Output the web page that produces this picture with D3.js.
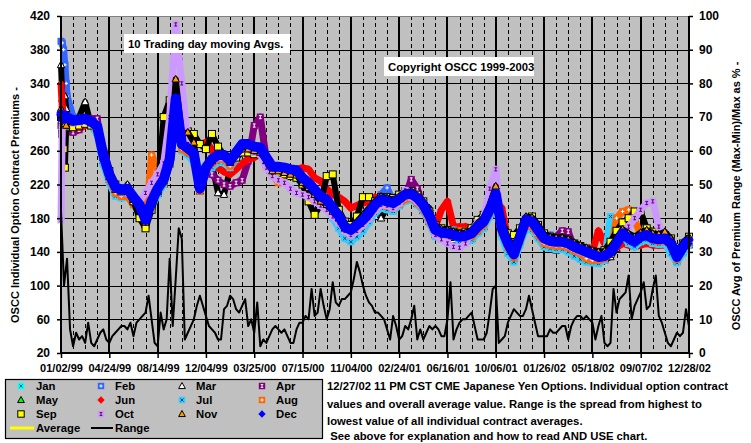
<!DOCTYPE html>
<html><head><meta charset="utf-8">
<script src="https://cdn.jsdelivr.net/npm/d3@7/dist/d3.min.js"></script>
<style>
html,body{margin:0;padding:0;background:#fff;}
svg{display:block;}
text{font-family:Arial,"Liberation Sans",Helvetica,sans-serif;font-weight:bold;fill:#000;}
</style></head><body>
<svg id="chart" width="751" height="443"></svg>
<script>
// ---------------- data ----------------
const startDate = "1999-01-02";
const endDate = "2002-12-28";
const xTickLabels = ["01/02/99","04/24/99","08/14/99","12/04/99","03/25/00","07/15/00","11/04/00","02/24/01","06/16/01","10/06/01","01/26/02","05/18/02","09/07/02","12/28/02"];
const leftTicks = [20,60,100,140,180,220,260,300,340,380,420];
const rightTicks = [0,10,20,30,40,50,60,70,80,90,100];
const openDays = [0,3,6,9,12];   // first sessions (calendar-day offsets)
const sampleDays = 14;           // contract samples every two weeks after that
const rangeDays = 7;             // range sampled weekly
const monthNames = ["Jan","Feb","Mar","Apr","May","Jun","Jul","Aug","Sep","Oct","Nov","Dec"];

const janOpen = [300,295,292,290,295];
const janVals = [296,292,293,294,291,283,246,225, 209,207,208,198,188,172,194,210, 222,247,305,262,257,249,240,238,
 242,248,248,242,252,260,262,259, 258,246,236,236,235,232,230,222, 216,207,198,194,182,170,158,154,
 160,167,177,188,194,192,190,197, 202,204,198,190,176,160,157,162, 164,152,153,156,164,170,184,202,
 160,140,130,150,170,168,158,148, 146,145,145,142,137,133,130,129, 128,132,176,180,158,151,148,154,
 156,152,151,152,140,129,140,150];
const febOpen = [390,388,380,362,340];
const febVals = [325,300,298,299,296,290,256,233, 218,215,216,206,197,179,201,216, 227,251,320,267,262,256,216,240,
 250,255,255,248,258,268,268,264, 263,251,240,240,239,237,236,227, 221,213,205,201,191,182,169,165,
 171,177,185,195,208,216,200,202, 207,208,203,195,182,165,162,161, 159,157,158,161,169,175,189,208,
 167,149,136,157,176,174,165,158, 160,151,151,149,145,142,139,136, 133,134,139,149,161,155,151,157,
 159,155,154,155,149,138,150,157];
const marOpen = [362,322,315,325,310];
const marVals = [295,292,300,318,290,282,248,226, 211,208,220,199,189,172,194,209, 220,244,312,262,258,252,222,234,
 244,210,208,238,250,260,260,258, 257,246,234,234,232,230,230,221, 215,207,199,195,185,176,163,160,
 166,172,180,182,180,193,191,196, 201,202,197,189,176,160,157,156, 154,152,153,156,164,170,184,202,
 162,144,132,152,172,170,160,150, 147,146,146,144,140,137,134,131, 129,130,134,144,156,150,147,164,
 166,162,150,150,145,129,140,148];
const aprOpen = [290,285,280,283,285];
const aprVals = [283,282,285,292,298,298,250,228, 214,210,212,202,192,176,196,212, 222,246,300,265,260,255,220,236,
 232,225,220,218,222,225,248,290, 300,250,238,238,236,234,232,224, 218,210,202,198,188,180,167,164,
 170,176,184,192,205,192,190,195, 205,226,215,194,180,164,161,160, 158,156,157,160,168,174,188,206,
 166,148,136,156,174,172,162,150, 148,158,165,164,144,141,138,135, 132,133,138,148,160,154,150,156,
 158,154,153,154,148,132,144,152];
const mayOpen = [300,295,292,290,292];
const mayVals = [297,293,294,295,292,285,251,228, 213,210,211,201,192,174,196,211, 222,246,316,264,259,253,212,236,
 246,251,251,244,254,264,264,261, 260,248,237,237,236,234,233,224, 218,210,202,198,188,179,166,162,
 168,174,182,192,198,196,194,199, 212,205,200,193,192,163,160,159, 157,155,156,159,167,173,187,206,
 165,147,134,155,175,173,163,153, 146,142,148,147,143,140,137,134, 131,132,137,147,159,153,149,155,
 157,153,152,153,147,131,143,151];
const junOpen = [340,312,303,295,285];
const junVals = [288,290,288,290,292,286,262,236, 218,212,212,203,192,178,198,214, 222,248,300,282,278,272,268,270,
 262,240,235,232,238,245,250,252, 256,248,238,236,234,236,238,240, 238,228,224,215,208,205,200,192,
 195,198,200,205,200,193,192,198, 206,208,204,196,185,170,190,200, 170,170,170,168,172,178,192,200,
 192,155,145,162,178,178,168,158, 152,150,150,150,148,145,142,140, 165,150,142,145,150,148,146,148,
 150,148,148,148,146,135,145,152];
const julOpen = [300,296,292,290,292];
const julVals = [294,290,291,292,289,280,244,222, 206,204,206,196,186,170,192,208, 220,245,300,260,255,246,238,236,
 240,246,246,240,250,258,260,257, 256,244,234,234,233,230,228,220, 214,205,196,192,180,168,156,152,
 158,165,175,186,192,190,188,195, 200,202,196,188,174,158,155,165, 166,150,151,154,162,168,182,200,
 158,138,128,148,168,166,156,146, 144,143,143,140,135,131,128,127, 126,130,182,168,160,150,146,152,
 154,150,149,150,138,127,138,148];
const augOpen = [305,300,295,292,290];
const augVals = [290,288,290,292,290,284,250,226, 210,206,206,196,188,172,255,240, 222,245,315,262,258,252,212,236,
 245,250,250,242,252,262,262,258, 258,246,232,222,232,232,230,222, 215,208,200,196,186,178,165,160,
 166,172,180,190,196,194,192,197, 202,204,198,190,176,160,157,157, 160,165,165,158,165,172,186,204,
 163,145,133,153,172,170,160,150, 148,147,147,145,141,138,132,130, 130,132,138,180,188,190,178,160,
 158,154,152,153,147,131,143,151];
const sepOpen = [300,280,262,240,288];
const sepVals = [290,288,290,292,290,287,258,236, 220,212,210,200,180,168,190,212, 300,320,300,280,283,280,268,262,
 280,265,255,250,252,258,258,256, 256,245,236,234,232,230,228,220, 200,184,196,230,232,190,176,172,
 182,205,205,200,205,205,204,208, 212,212,208,200,188,172,168,166, 164,162,164,168,178,184,194,212,
 175,162,160,168,178,182,172,162, 158,156,156,154,150,147,144,141, 140,142,152,165,175,180,188,188,
 168,164,162,160,156,140,150,158];
const octOpen = [178,290,300,296,294];
const octVals = [296,293,294,295,292,286,250,228, 214,210,210,205,200,210,222,232, 245,300,410,340,268,260,218,242,
 250,252,252,246,255,262,262,258, 256,240,230,225,222,215,210,208, 205,200,195,190,182,175,165,160,
 165,172,180,190,196,195,192,198, 213,205,200,192,178,160,155,150, 146,145,150,165,175,180,215,238,
 165,148,136,156,175,173,163,154, 151,150,150,148,144,141,138,135, 133,134,140,152,165,170,180,190,
 198,200,170,160,152,136,148,155];
const novOpen = [310,300,295,292,290];
const novVals = [298,294,295,296,293,286,252,229, 214,211,212,202,193,175,197,213, 224,248,345,280,282,270,218,238,
 248,253,253,246,256,262,262,260, 258,248,236,236,234,232,231,222, 216,208,200,196,188,180,168,168,
 176,184,192,200,206,204,202,206, 210,212,207,200,188,170,167,166, 164,162,163,166,174,181,196,218,
 174,157,145,164,182,181,172,161, 158,157,157,155,151,148,145,142, 140,141,146,156,167,162,158,163,
 166,162,161,164,156,140,151,158];
const decOpen = [305,300,298,302,300];
const decVals = [300,296,297,298,295,289,255,232, 217,214,215,205,196,178,200,215, 226,250,322,268,263,257,215,240,
 250,255,255,248,258,268,268,265, 264,252,241,241,240,238,237,228, 222,214,206,202,192,183,170,166,
 172,178,186,196,202,200,198,203, 208,209,204,196,183,166,163,162, 160,158,159,162,170,176,190,209,
 168,150,137,158,178,176,166,156, 153,152,152,150,146,143,140,137, 134,135,140,150,162,156,152,158,
 160,156,155,156,150,134,146,154];
const avgOpen = [392,360,320,295,290];
const avgVals = [296,292,293,295,291,285,252,229, 213,210,212,201,191,174,200,214, 226,248,318,266,262,256,224,240,
 246,248,246,244,252,262,262,262, 262,248,237,236,235,234,232,225, 218,210,203,200,190,180,167,163,
 169,176,184,193,199,197,194,199, 205,207,201,193,180,163,161,163, 160,157,157,160,168,174,188,208,
 166,148,136,156,175,173,163,153, 151,150,151,149,144,141,138,135, 135,135,144,156,163,160,158,161,
 163,160,157,157,150,134,145,153];
const rangeVals = [42,20,28,7,2,6,4,5,3,9,3,2,4,6,7,4,
 3,5,6,7,8,8,7,9,5,9,10,11,12,17,10,3,
 2,12,7,10,28,8,22,37,34,4,6,8,10,14,17,14,
 11,8,7,6,4,4,13,14,17,16,13,12,14,16,8,10,
 6,15,2,4,3,5,7,8,7,6,7,5,3,3,7,9,
 9,11,10,19,11,12,19,14,10,13,21,15,14,16,16,17,
 18,22,27,24,20,17,15,14,12,12,11,10,7,4,11,8,
 4,5,8,7,10,14,4,7,4,6,8,7,8,7,5,5,
 10,21,4,7,9,10,10,11,12,8,4,4,4,6,12,19,
 20,3,4,5,9,11,13,12,11,11,13,17,13,9,5,5,
 5,5,7,6,6,7,8,8,4,8,10,11,11,10,11,10,
 9,4,8,11,3,2,3,19,12,16,17,18,23,10,14,16,
 18,21,13,14,19,23,11,9,6,3,2,4,6,5,6,13,
 8];

// ---------------- styles ----------------
const styleOf = {
  Jan:{type:"sqx",fill:"#00FFFF",mark:"#006060",line:"#00FFFF"},
  Feb:{type:"sqplus",fill:"#3366FF",mark:"#FFFFFF",line:"#3366FF"},
  Mar:{type:"tri",fill:"#FFFFFF",mark:"#000000",line:"#000000"},
  Apr:{type:"sqI",fill:"#800080",mark:"#FFFFFF",line:"#800080"},
  May:{type:"tri",fill:"#00FF00",mark:"#000000",line:"#000000"},
  Jun:{type:"dia",fill:"#FF0000",mark:null,line:"#FF0000"},
  Jul:{type:"sqx",fill:"#33CCFF",mark:"#004060",line:"#33CCFF"},
  Aug:{type:"sqplus",fill:"#FF6600",mark:"#FFFFFF",line:"#FF6600"},
  Sep:{type:"sq",fill:"#FFFF00",mark:"#000000",line:"#000000"},
  Oct:{type:"sqI",fill:"#CC99FF",mark:"#660066",line:"#CC99FF"},
  Nov:{type:"tri",fill:"#FF9900",mark:"#000000",line:"#000000"},
  Dec:{type:"dia",fill:"#0000FF",mark:null,line:"#0000FF"}
};

// ---------------- build ----------------
const L=61, R=689, T=16, B=353;
const svg = d3.select("#chart");
const parse = d3.utcParse("%Y-%m-%d");
const t0 = parse(startDate), t1 = parse(endDate);
const addDays = n => d3.utcDay.offset(t0, n);
const x = d3.scaleUtc().domain([t0,t1]).range([L,R]);
const yL = d3.scaleLinear().domain([20,420]).range([B,T]);
const yR = d3.scaleLinear().domain([0,100]).range([B,T]);

const opens = [janOpen,febOpen,marOpen,aprOpen,mayOpen,junOpen,julOpen,augOpen,sepOpen,octOpen,novOpen,decOpen];
const vals = [janVals,febVals,marVals,aprVals,mayVals,junVals,julVals,augVals,sepVals,octVals,novVals,decVals];
function toPoints(open, v){
  const pts = open.map((val,k)=>({d:addDays(openDays[k]), v:val}));
  v.forEach((val,k)=>pts.push({d:addDays((k+1)*sampleDays), v:val}));
  return pts;
}
const series = monthNames.map((m,i)=>({name:m, pts:toPoints(opens[i], vals[i]), st:styleOf[m]}));
const avgPts = toPoints(avgOpen, avgVals);
const rangePts = rangeVals.map((v,k)=>({d:addDays(k*rangeDays), v}));

// background
svg.append("rect").attr("x",L).attr("y",T).attr("width",R-L).attr("height",B-T).attr("fill","#C0C0C0");

// grid
const majorDates = xTickLabels.map((s,k)=>addDays(k*112));
const minorDates = d3.range(1,52).filter(m=>m%4!==0).map(m=>addDays(m*28));
const grid = svg.append("g").attr("shape-rendering","crispEdges");
grid.selectAll(".mn").data(minorDates).join("line")
  .attr("x1",d=>Math.round(x(d))+0.5).attr("x2",d=>Math.round(x(d))+0.5).attr("y1",T).attr("y2",B)
  .attr("stroke","#000").attr("stroke-width",1).attr("stroke-dasharray","4,3");
grid.selectAll(".hz").data(leftTicks.slice(1,-1)).join("line")
  .attr("x1",L).attr("x2",R).attr("y1",d=>Math.round(yL(d))+0.5).attr("y2",d=>Math.round(yL(d))+0.5)
  .attr("stroke","#000").attr("stroke-width",1.3);
grid.selectAll(".mj").data(majorDates.slice(1,-1)).join("line")
  .attr("x1",d=>Math.round(x(d))).attr("x2",d=>Math.round(x(d))).attr("y1",T).attr("y2",B)
  .attr("stroke","#000").attr("stroke-width",2);
svg.append("line").attr("x1",L).attr("x2",R).attr("y1",T+0.5).attr("y2",T+0.5).attr("stroke","#808080").attr("stroke-width",1);

// marker painter
function paintMarker(g, st, s){
  const t = st.type;
  if (t==="sqx"||t==="sqplus"||t==="sqI"||t==="sq"){
    g.append("rect").attr("x",-s).attr("y",-s).attr("width",2*s).attr("height",2*s)
      .attr("fill",st.fill).attr("stroke",t==="sq"?"#000":"none").attr("stroke-width",1);
    let d=null;
    if (t==="sqx") d=`M${-s*0.45},${-s*0.45}L${s*0.45},${s*0.45}M${s*0.45},${-s*0.45}L${-s*0.45},${s*0.45}`;
    if (t==="sqplus") d=`M${-s*0.5},0L${s*0.5},0M0,${-s*0.5}L0,${s*0.5}`;
    if (t==="sqI") d=`M${-s*0.4},${-s*0.45}L${s*0.4},${-s*0.45}M0,${-s*0.45}L0,${s*0.45}M${-s*0.4},${s*0.45}L${s*0.4},${s*0.45}`;
    if (d) g.append("path").attr("d",d).attr("stroke",st.mark).attr("stroke-width",1).attr("fill","none");
  } else if (t==="tri"){
    g.append("path").attr("d",`M0,${-s*1.1}L${s*1.05},${s*0.8}L${-s*1.05},${s*0.8}Z`)
      .attr("fill",st.fill).attr("stroke","#000").attr("stroke-width",1);
  } else if (t==="dia"){
    g.append("path").attr("d",`M0,${-s*1.15}L${s*1.15},0L0,${s*1.15}L${-s*1.15},0Z`).attr("fill",st.fill);
  }
}

// average line (underneath)
const lineL = d3.line().x(d=>x(d.d)).y(d=>yL(d.v));
svg.append("path").datum(avgPts).attr("d",lineL).attr("fill","none").attr("stroke","#FFFF00").attr("stroke-width",3);

// contract series
const sg = svg.append("g");
series.forEach(s=>{
  const g = sg.append("g");
  const isDec = s.name==="Dec";
  g.append("path").datum(s.pts).attr("d",lineL).attr("fill","none")
    .attr("stroke",s.st.line).attr("stroke-width",isDec?10:(s.st.line==="#000000"?6:7)).attr("stroke-linejoin","round");
  g.selectAll("g").data(s.pts).join("g").attr("transform",d=>`translate(${x(d.d)},${yL(d.v)})`)
    .each(function(){ paintMarker(d3.select(this), s.st, isDec?4.2:3.5); });
});

// range line (right axis)
svg.append("path").datum(rangePts).attr("d",d3.line().x(d=>x(d.d)).y(d=>yR(d.v)))
  .attr("fill","none").attr("stroke","#000").attr("stroke-width",2).attr("stroke-linejoin","round");

// axes
const axL = svg.append("g").attr("transform",`translate(${L},0)`)
  .call(d3.axisLeft(yL).tickValues(leftTicks).tickSize(4).tickPadding(7).tickFormat(d3.format("d")));
axL.attr("font-size",12);
axL.select(".domain").remove();
axL.selectAll(".tick line").attr("stroke","#000").attr("stroke-width",1.5);
const axR = svg.append("g").attr("transform",`translate(${R},0)`)
  .call(d3.axisRight(yR).tickValues(rightTicks).tickSize(4).tickPadding(6).tickFormat(d3.format("d")));
axR.attr("font-size",12);
axR.select(".domain").remove();
axR.selectAll(".tick line").attr("stroke","#000").attr("stroke-width",1.5);
const axB = svg.append("g").attr("transform",`translate(0,${B})`)
  .call(d3.axisBottom(x).tickValues(majorDates).tickSize(5).tickPadding(6).tickFormat((d,i)=>xTickLabels[i]));
axB.attr("font-size",11);
axB.select(".domain").remove();
axB.selectAll(".tick line").attr("stroke","#000").attr("stroke-width",1.5);
svg.append("line").attr("x1",L).attr("x2",L).attr("y1",T).attr("y2",B+1).attr("stroke","#000").attr("stroke-width",2);
svg.append("line").attr("x1",R).attr("x2",R).attr("y1",T).attr("y2",B+1).attr("stroke","#000").attr("stroke-width",2);
svg.append("line").attr("x1",L-1).attr("x2",R+1).attr("y1",B).attr("y2",B).attr("stroke","#000").attr("stroke-width",2);

// axis titles
svg.append("text").attr("transform","translate(19,205) rotate(-90)").attr("text-anchor","middle")
  .attr("font-size",11).text("OSCC Individual Option Contract Premiums -");
svg.append("text").attr("transform","translate(740,196) rotate(-90)").attr("text-anchor","middle")
  .attr("font-size",11).text("OSCC Avg of Premium Range (Max-Min)/Max as % -");

// boxes in plot
svg.append("rect").attr("x",124).attr("y",34).attr("width",166).attr("height",19).attr("fill","#fff");
svg.append("text").attr("x",128).attr("y",48).attr("font-size",11.3).text("10 Trading day moving Avgs.");
svg.append("rect").attr("x",384).attr("y",57).attr("width",150).attr("height",19).attr("fill","#fff");
svg.append("text").attr("x",388).attr("y",71).attr("font-size",11.3).text("Copyright OSCC 1999-2003");

// legend
const lg = svg.append("g");
lg.append("rect").attr("x",5.5).attr("y",379.5).attr("width",317).attr("height",59)
  .attr("fill","#C0C0C0").attr("stroke","#000").attr("stroke-width",1.2);
const colMark = [21,101,182,262], colText = [36,115,196,276], rowY = [386,400,414];
monthNames.forEach((m,i)=>{
  const r = Math.floor(i/4), c = i%4;
  const g = lg.append("g").attr("transform",`translate(${colMark[c]},${rowY[r]})`);
  paintMarker(g, styleOf[m], 3.2);
  lg.append("text").attr("x",colText[c]).attr("y",rowY[r]+4).attr("font-size",11.3).text(m);
});
lg.append("line").attr("x1",10).attr("x2",34).attr("y1",428).attr("y2",428).attr("stroke","#FFFF00").attr("stroke-width",3);
lg.append("text").attr("x",36).attr("y",432).attr("font-size",11.3).text("Average");
lg.append("line").attr("x1",91).attr("x2",113).attr("y1",428).attr("y2",428).attr("stroke","#000").attr("stroke-width",2);
lg.append("text").attr("x",115).attr("y",432).attr("font-size",11.3).text("Range");

// note text
const notes = ["12/27/02 11 PM CST CME Japanese Yen Options. Individual option contract",
  "values and overall average value. Range is the spread from highest to",
  "lowest value of all individual contract averages.",
  "\u00a0See above for explanation and how to read AND USE chart."];
const noteY = [390,408,425,440];
notes.forEach((t,i)=>svg.append("text").attr("x",327).attr("y",noteY[i]).attr("font-size",11.3).text(t));
</script>
</body></html>
